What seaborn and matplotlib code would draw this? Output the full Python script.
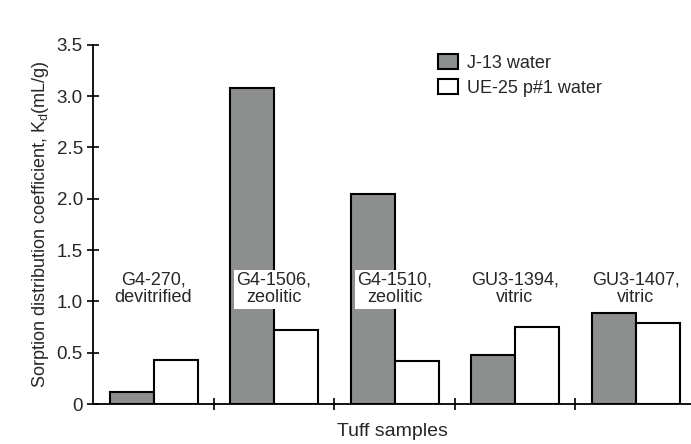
import matplotlib
matplotlib.use("Agg")
import matplotlib.pyplot as plt
import seaborn as sns
import pandas as pd

samples = ["G4-270,\ndevitrified", "G4-1506,\nzeolitic", "G4-1510,\nzeolitic",
           "GU3-1394,\nvitric", "GU3-1407,\nvitric"]
j13 = [0.12, 3.08, 2.05, 0.48, 0.89]
ue25 = [0.43, 0.72, 0.42, 0.75, 0.79]
series = ["J-13 water", "UE-25 p#1 water"]
yticks = [0, 0.5, 1.0, 1.5, 2.0, 2.5, 3.0, 3.5]
ytick_labels = ["0", "0.5", "1.0", "1.5", "2.0", "2.5", "3.0", "3.5"]

df = pd.DataFrame({
    "sample": samples * 2,
    "water": [series[0]] * len(samples) + [series[1]] * len(samples),
    "kd": j13 + ue25,
})

sns.set_style("white")
plt.rcParams["font.family"] = ["Liberation Sans", "DejaVu Sans"]

fig = plt.figure(figsize=(6.91, 4.44), dpi=100)
ax = fig.add_axes([0.135, 0.09, 0.865, 0.809])

sns.barplot(data=df, x="sample", y="kd", hue="water", order=samples,
            hue_order=series, palette=["#8c8f8e", "#ffffff"],
            edgecolor="black", linewidth=1.5, width=0.73, ax=ax,
            errorbar=None, saturation=1)

ax.set_xlim(-0.5, 4.46)
ax.set_ylim(0, 3.5)
ax.set_yticks(yticks)
ax.set_yticklabels(ytick_labels, fontsize=13.5)
ax.set_xticks([0.5, 1.5, 2.5, 3.5])
ax.set_xticklabels([])
ax.tick_params(axis="both", direction="inout", length=9, width=1.2,
               color="black", bottom=True, left=True, pad=3)
for s in ["top", "right"]:
    ax.spines[s].set_visible(False)
for s in ["left", "bottom"]:
    ax.spines[s].set_color("black")
    ax.spines[s].set_linewidth(1.3)

for i, lab in enumerate(samples):
    ax.text(i, 1.12, lab, ha="center", va="center", fontsize=13,
            linespacing=1.05,
            bbox=dict(facecolor="white", edgecolor="none", pad=1.5))

ax.set_xlabel("Tuff samples", fontsize=14, labelpad=6)
ax.set_ylabel("Sorption distribution coefficient, K$_\\mathregular{d}$(mL/g)",
              fontsize=13, labelpad=4)

leg = ax.legend(loc="upper left", bbox_to_anchor=(0.55, 1.02), frameon=False,
                fontsize=13, handlelength=1.1, handleheight=0.9,
                handletextpad=0.5, labelspacing=0.4)

fig.savefig("out.png", dpi=100)
